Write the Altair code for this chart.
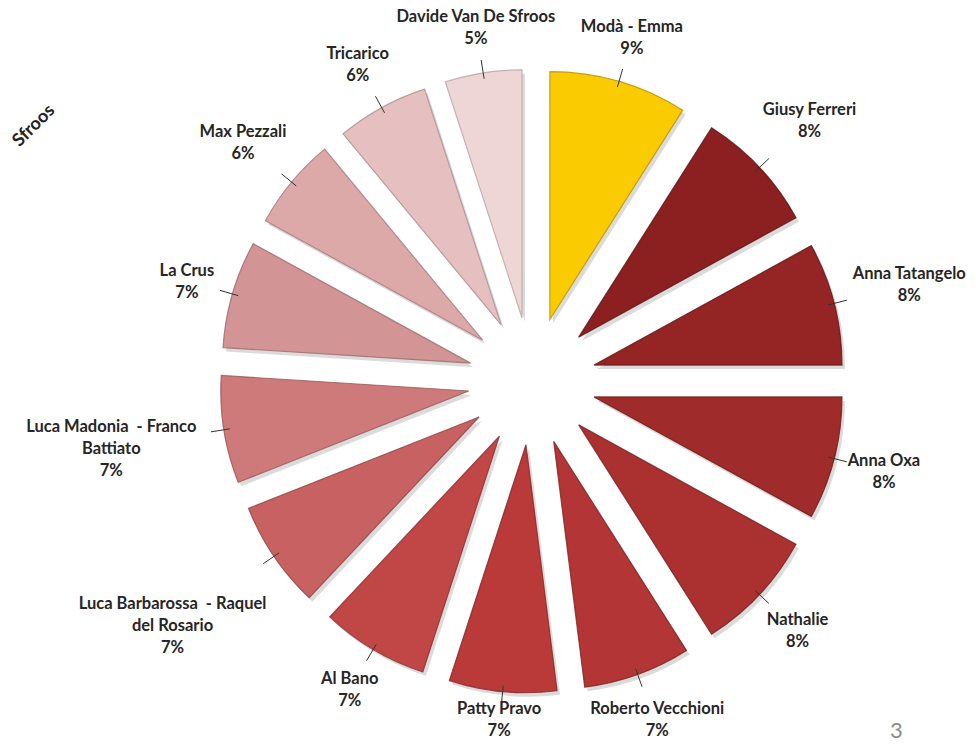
import altair as alt
import pandas as pd

# ---- data ----
names = ["Modà - Emma", "Giusy Ferreri", "Anna Tatangelo", "Anna Oxa", "Nathalie",
         "Roberto Vecchioni", "Patty Pravo", "Al Bano",
         "Luca Barbarossa  - Raquel\ndel Rosario", "Luca Madonia  - Franco\nBattiato",
         "La Crus", "Max Pezzali", "Tricarico", "Davide Van De Sfroos"]
shares = [9, 8, 8, 8, 8, 7, 7, 7, 7, 7, 7, 6, 6, 5]
colors = ["#FACB00", "#8C2020", "#952424", "#A02B2B", "#AB3030", "#B43535", "#BA3A3A",
          "#C14646", "#C86262", "#CE7A7A", "#D29494", "#DCA8A8", "#E6C0C0", "#EFD6D6"]
edges = ["#B89200", "#5E1515", "#641818", "#6E1C1C", "#762020", "#7E2323", "#842626",
         "#8A3030", "#904444", "#965656", "#9A6A6A", "#A47C7C", "#AE9090", "#B8A4A4"]

df = pd.DataFrame({"idx": list(range(len(names))), "name": names, "share": shares,
                   "color": colors, "edge": edges})
df["label"] = [f"{n}\n{s}%".replace("  ", " \u00a0") for n, s in zip(names, shares)]
df["nlines"] = df["label"].str.count("\n") + 1
df["maxchars"] = df["label"].apply(lambda t: max(len(l) for l in t.split("\n")))

W, H = 960, 730
CX, CY = 524, 373      # pie centre inside the plot area
R = 248                # slice radius
D = 64                 # explosion distance
LB = 323               # label base distance
CW, LH = 9.0, 22       # label spacing per char / line height

base = (
    alt.Chart(df)
    .transform_window(cum="sum(share)", sort=[alt.SortField("idx")], frame=[None, 0])
    .transform_joinaggregate(total="sum(share)")
    .transform_calculate(a0="2*PI*(datum.cum - datum.share)/datum.total")
    .transform_calculate(a1="2*PI*datum.cum/datum.total")
    .transform_calculate(mid="PI*(2*datum.cum - datum.share)/datum.total")
    .transform_calculate(sx=f"{CX} + {D}*sin(datum.mid)")
    .transform_calculate(sy=f"{CY} - {D}*cos(datum.mid)")
    .transform_calculate(
        lr=f"{LB} + 0.5*{CW}*datum.maxchars*abs(sin(datum.mid)) + 0.5*{LH}*datum.nlines*abs(cos(datum.mid))")
    .transform_calculate(tx=f"{CX} + datum.lr*sin(datum.mid)")
    .transform_calculate(
        ty=f"min({CY} - datum.lr*cos(datum.mid) - (datum.nlines - 1)*{LH}/2, {H - 8} - (datum.nlines - 1)*{LH})")
    .transform_calculate(lx1=f"{CX} + {D + R - 6}*sin(datum.mid)")
    .transform_calculate(ly1=f"{CY} - {D + R - 6}*cos(datum.mid)")
    .transform_calculate(lx2=f"{CX} + {LB + 2}*sin(datum.mid)")
    .transform_calculate(ly2=f"{CY} - {LB + 2}*cos(datum.mid)")
)

shadow = base.mark_arc(outerRadius=R, color="#000000", opacity=0.14, xOffset=3, yOffset=4).encode(
    x=alt.X("sx:Q", scale=None, axis=None),
    y=alt.Y("sy:Q", scale=None, axis=None),
    theta=alt.Theta("a0:Q", scale=None),
    theta2="a1:Q",
)

slices = base.mark_arc(outerRadius=R, strokeWidth=1.2, strokeOpacity=0.8).encode(
    x=alt.X("sx:Q", scale=None, axis=None),
    y=alt.Y("sy:Q", scale=None, axis=None),
    theta=alt.Theta("a0:Q", scale=None),
    theta2="a1:Q",
    color=alt.Color("color:N", scale=None),
    stroke=alt.Stroke("edge:N", scale=None),
    order=alt.Order("idx:Q"),
)

leaders = base.mark_rule(color="#333333", strokeWidth=1).encode(
    x=alt.X("lx1:Q", scale=None, axis=None),
    y=alt.Y("ly1:Q", scale=None, axis=None),
    x2="lx2:Q",
    y2="ly2:Q",
)

labels = base.mark_text(font="Lato", fontWeight="bold", fontSize=16.5, color="#262626",
                        lineBreak="\n", lineHeight=LH, align="center", baseline="middle",
                        dy=1).encode(
    x=alt.X("tx:Q", scale=None, axis=None),
    y=alt.Y("ty:Q", scale=None, axis=None),
    text="label:N",
)

deco_text = ["Sfroos"]
deco = alt.Chart(pd.DataFrame({"t": deco_text})).mark_text(
    font="Lato", fontWeight="bold", fontSize=18, color="#222222", angle=315,
    align="center", baseline="middle").encode(
    x=alt.value(26), y=alt.value(118), text="t:N")

page_no = ["3"]
pnum = alt.Chart(pd.DataFrame({"t": page_no})).mark_text(
    font="Lato", fontSize=22, color="#8a8a8a", align="left", baseline="alphabetic").encode(
    x=alt.value(882), y=alt.value(730), text="t:N")

chart = alt.layer(shadow, slices, leaders, labels, deco, pnum).properties(
    width=W, height=H, autosize=alt.AutoSizeParams(type="none"), padding=0
).configure_view(stroke=None)

chart.save("out.html", embed_options={"renderer": "svg", "actions": False})
